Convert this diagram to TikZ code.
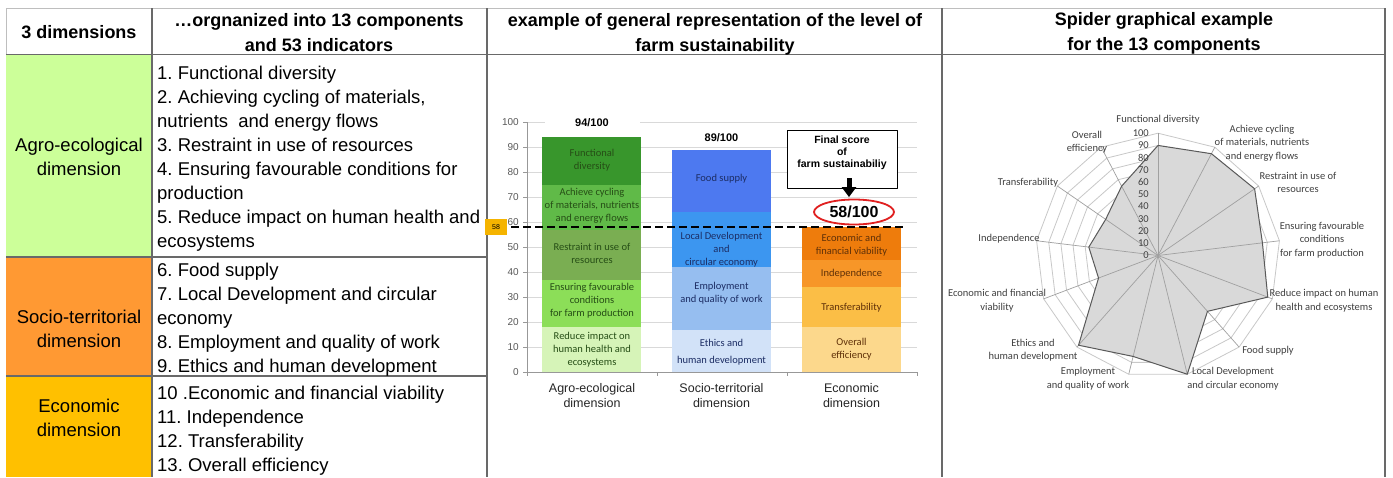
\documentclass[tikz,border=0pt]{standalone}
\usepackage{fontspec}
\setmainfont{Liberation Sans}
\newfontfamily\calfont{Carlito}
\frenchspacing
\usetikzlibrary{shapes.geometric}
\usetikzlibrary{arrows.meta}

\definecolor{agrocell}{RGB}{204,255,153}
\definecolor{sociocell}{RGB}{255,153,51}
\definecolor{ecocell}{RGB}{255,192,0}
\definecolor{tabgray}{RGB}{105,105,105}
\definecolor{toplight}{RGB}{190,190,190}
\definecolor{gridgray}{RGB}{217,217,217}
\definecolor{axgray}{RGB}{89,89,89}
\definecolor{agroA}{RGB}{56,150,44}
\definecolor{agroB}{RGB}{96,186,72}
\definecolor{agroC}{RGB}{122,174,82}
\definecolor{agroD}{RGB}{140,222,88}
\definecolor{agroE}{RGB}{214,244,184}
\definecolor{socA}{RGB}{77,121,240}
\definecolor{socB}{RGB}{60,150,240}
\definecolor{socC}{RGB}{150,190,240}
\definecolor{socD}{RGB}{210,226,248}
\definecolor{ecoA}{RGB}{238,124,12}
\definecolor{ecoB}{RGB}{247,150,40}
\definecolor{ecoC}{RGB}{251,190,70}
\definecolor{ecoD}{RGB}{252,216,140}
\definecolor{agrotext}{RGB}{38,78,22}
\definecolor{soctext}{RGB}{28,45,100}
\definecolor{ecotext}{RGB}{95,48,8}
\definecolor{flagyellow}{RGB}{245,180,0}
\definecolor{scorered}{RGB}{224,32,32}
\definecolor{spidertext}{RGB}{64,64,64}
\definecolor{ringgray}{RGB}{200,200,200}
\definecolor{spokegray}{RGB}{160,160,160}
\definecolor{polyfill}{RGB}{217,217,217}
\definecolor{polyline}{RGB}{89,89,89}

\begin{document}
\begin{tikzpicture}[x = 1pt, y = -1pt, line join = round,
  hdr/.style = {font = \bfseries\fontsize{18}{25}\selectfont, align = center},
  dimtxt/.style = {font = \fontsize{18.5}{24}\selectfont, align = center},
  itemtxt/.style = {font = \fontsize{18.5}{24}\selectfont, align = left,
    anchor = west, inner sep = 0},
  tabline/.style = {draw = tabgray, line width = 1.1pt},
  gridln/.style = {draw = gridgray, line width = 0.9pt},
  axisln/.style = {draw = gridgray!70!black, line width = 0.8pt},
  axnum/.style = {font = \fontsize{10}{10}\selectfont, text = axgray,
    anchor = east, inner sep = 0},
  segtxt/.style = {font = \calfont\fontsize{10.5}{13}\selectfont,
    align = center, inner sep = 0},
  toplbl/.style = {font = \bfseries\fontsize{11}{11}\selectfont,
    fill = white, inner sep = 2pt},
  catlbl/.style = {font = \fontsize{12.5}{15}\selectfont, align = center,
    text = black!85},
  flagbox/.style = {fill = flagyellow, minimum width = 22pt,
    minimum height = 16pt, inner sep = 0, font = \fontsize{7}{7}\selectfont},
  cutline/.style = {line width = 2.5pt, dash pattern = on 7.5pt off 4.5pt},
  finalbox/.style = {draw, fill = white, line width = 0.8pt,
    minimum width = 110pt, minimum height = 58pt},
  finaltxt/.style = {font = \bfseries\fontsize{10.5}{12}\selectfont,
    align = center, inner sep = 0},
  bigarrow/.style = {-{Triangle[width = 14pt, length = 10pt]},
    line width = 5pt},
  scoreell/.style = {ellipse, draw = scorered, line width = 1.8pt,
    fill = white, minimum width = 80pt, minimum height = 25pt,
    inner sep = 0, font = \bfseries\fontsize{16}{16}\selectfont},
  ring/.style = {draw = ringgray, line width = 0.8pt},
  spoke/.style = {draw = spokegray, line width = 0.7pt},
  spknum/.style = {font = \calfont\fontsize{10.5}{10.5}\selectfont,
    text = spidertext, anchor = east, inner sep = 0},
  spklbl/.style = {font = \calfont\fontsize{10.5}{13.5}\selectfont,
    text = spidertext, align = center, inner sep = 0}]

  \path[use as bounding box, fill = white] (0, 0) rectangle (1393, 477);

  % table
  \fill[agrocell] (6, 55) rectangle (152, 257);
  \fill[sociocell] (6, 257) rectangle (152, 376);
  \fill[ecocell] (6, 376) rectangle (152, 477);

  \draw[draw = toplight, line width = 0.8pt] (6, 8) -- (1385, 8);
  \draw[draw = toplight, line width = 0.8pt] (6, 8) -- (6, 55);
  \draw[tabline] (6, 54.5) -- (1385, 54.5);
  \draw[tabline] (6, 257) -- (487, 257);
  \draw[tabline] (6, 376) -- (487, 376);
  \foreach \xa in {152, 487, 942, 1385}
    \draw[tabline] (\xa, 8) -- (\xa, 477);

  \node[hdr] (h1) at (79, 32) {3 dimensions};
  \node[hdr] (h2) at (319, 33) {…orgnanized into 13 components\\and 53 indicators};
  \node[hdr] (h3) at (715, 34) {example of general representation of the level of\\farm sustainability};
  \node[hdr] (h4) at (1164, 33) {Spider graphical example\\for the 13 components};

  \node[dimtxt] (agro) at (79, 157) {Agro-ecological\\dimension};
  \node[dimtxt] (socio) at (79, 329) {Socio-territorial\\dimension};
  \node[dimtxt] (eco) at (79, 418) {Economic\\dimension};

  \node[itemtxt] (items1) at (157, 158.5) {1. Functional diversity\\
    2. Achieving cycling of materials,\\nutrients~ and energy flows\\
    3. Restraint in use of resources\\
    4. Ensuring favourable conditions for\\production\\
    5. Reduce impact on human health and\\ecosystems};
  \node[itemtxt] (items2) at (157, 319.5) {6. Food supply\\
    7. Local Development and circular\\economy\\
    8. Employment and quality of work\\
    9. Ethics and human development};
  \node[itemtxt] (items3) at (157, 430.5) {10 .Economic and financial viability\\
    11. Independence\\
    12. Transferability\\
    13. Overall efficiency};

  % bar chart
  \foreach \v in {10, 20, ..., 100}
    \draw[gridln] (527, {372 - 2.5*\v}) -- (917, {372 - 2.5*\v});
  \foreach \v in {0, 10, ..., 100} {
    \draw[axisln] (523, {372 - 2.5*\v}) -- (527, {372 - 2.5*\v});
    \node[axnum] (y\v) at (519, {372 - 2.5*\v}) {\v};
  }
  \draw[axisln] (527, 122) -- (527, 372) -- (917, 372);
  \foreach \xa in {527, 657, 787, 917}
    \draw[axisln] (\xa, 372) -- (\xa, 376);

  \foreach \xa/\lo/\hi/\col in {542/0/18/agroE, 542/18/37/agroD,
      542/37/57/agroC, 542/57/75/agroB, 542/75/94/agroA,
      672/0/17/socD, 672/17/42/socC, 672/42/64/socB, 672/64/89/socA,
      802/0/18/ecoD, 802/18/34/ecoC, 802/34/45/ecoB, 802/45/58/ecoA}
    \fill[fill = \col] (\xa, {372 - 2.5*\lo}) rectangle ++(99, {2.5*(\lo - \hi)});

  \node[segtxt, text = agrotext] (fd) at (592, 160) {Functional\\diversity};
  \node[segtxt, text = agrotext] (ac) at (592, 206) {Achieve cycling\\of materials, nutrients\\and energy flows};
  \node[segtxt, text = agrotext] (ru) at (592, 253) {Restraint in use of\\resources};
  \node[segtxt, text = agrotext] (ef) at (592, 301) {Ensuring favourable\\conditions\\for farm production};
  \node[segtxt, text = agrotext] (ri) at (592, 350) {Reduce impact on\\human health and\\ecosystems};
  \node[segtxt, text = soctext] (fs) at (721.5, 179) {Food supply};
  \node[segtxt, text = soctext] (ld) at (721.5, 249.5) {Local Development\\and\\circular economy};
  \node[segtxt, text = soctext] (eq) at (721.5, 293) {Employment\\and quality of work};
  \node[segtxt, text = soctext] (eh) at (721.5, 352) {Ethics and\\[4pt]human development};
  \node[segtxt, text = ecotext] (ev) at (851.5, 245) {Economic and\\financial viability};
  \node[segtxt, text = ecotext] (ind) at (851.5, 274) {Independence};
  \node[segtxt, text = ecotext] (tr) at (851.5, 308) {Transferability};
  \node[segtxt, text = ecotext] (oe) at (851.5, 349) {Overall\\efficiency};

  \node[toplbl, minimum width = 95pt] (agrotop) at (592, 123) {94/100};
  \node[toplbl] (soctop) at (721.5, 138) {89/100};

  \node[flagbox] (m58) at (496, 227) {58};
  \coordinate (cutend) at (905, 227);
  \draw[cutline] ([xshift = 4pt]m58.east) -- (cutend);

  \node[finalbox] (final) at (842, 159) {};
  \node[finaltxt] (finaltext) at (842, 153) {Final score\\of\\farm sustainabiliy};
  \node[scoreell] (score) at (854, 212) {58/100};
  \draw[bigarrow] ([xshift = 7pt, yshift = 10pt]final.south) -- ([xshift = -5pt, yshift = 1.5pt]score.north);

  \node[catlbl] (catagro) at (592, 395.5) {Agro-ecological\\dimension};
  \node[catlbl] (catsoc) at (721.5, 395.5) {Socio-territorial\\dimension};
  \node[catlbl] (cateco) at (851.5, 395.5) {Economic\\dimension};

  % spider
  \begin{scope}[shift = {(1158, 255.5)}]
    \foreach \r in {10, 20, ..., 100}
      \draw[ring] (90:{\r*1.223pt}) \foreach \k in {1, ..., 12}
        { -- ({90 - \k*360/13}:{\r*1.223pt}) } -- cycle;
    \fill[polyfill] (90:{90*1.223pt}) \foreach \v [count = \k] in
      {94, 96, 86, 96, 61, 100, 85, 98, 52, 57, 52, 64}
      { -- ({90 - \k*360/13}:{\v*1.223pt}) } -- cycle;
    \foreach \k in {0, ..., 12}
      \draw[spoke] (0, 0) -- ({90 - \k*360/13}:{122.3pt});
    \draw[draw = polyline, line width = 1pt] (90:{90*1.223pt}) \foreach \v [count = \k] in
      {94, 96, 86, 96, 61, 100, 85, 98, 52, 57, 52, 64}
      { -- ({90 - \k*360/13}:{\v*1.223pt}) } -- cycle;
  \end{scope}

  \foreach \v in {0, 10, ..., 100}
    \node[spknum] (r\v) at (1149, {255.5 - 1.223*\v}) {\v};

  \node[spklbl] (s1) at (1158, 120) {Functional diversity};
  \node[spklbl] (s2) at (1262, 143) {Achieve cycling\\of materials, nutrients\\and energy flows};
  \node[spklbl] (s3) at (1298, 182.5) {Restraint in use of\\resources};
  \node[spklbl] (s4) at (1322, 240) {Ensuring favourable\\conditions\\for farm production};
  \node[spklbl] (s5) at (1324, 300.5) {Reduce impact on human\\health and ecosystems};
  \node[spklbl] (s6) at (1268, 351) {Food supply};
  \node[spklbl] (s7) at (1233, 378.5) {Local Development\\and circular economy};
  \node[spklbl] (s8) at (1088, 378.5) {Employment\\and quality of work};
  \node[spklbl] (s9) at (1033, 350) {Ethics and\\human development};
  \node[spklbl] (s10) at (997, 300.5) {Economic and financial\\viability};
  \node[spklbl] (s11) at (1009, 239) {Independence};
  \node[spklbl] (s12) at (1028, 183) {Transferability};
  \node[spklbl] (s13) at (1087, 142) {Overall\\efficiency};
\end{tikzpicture}
\end{document}
